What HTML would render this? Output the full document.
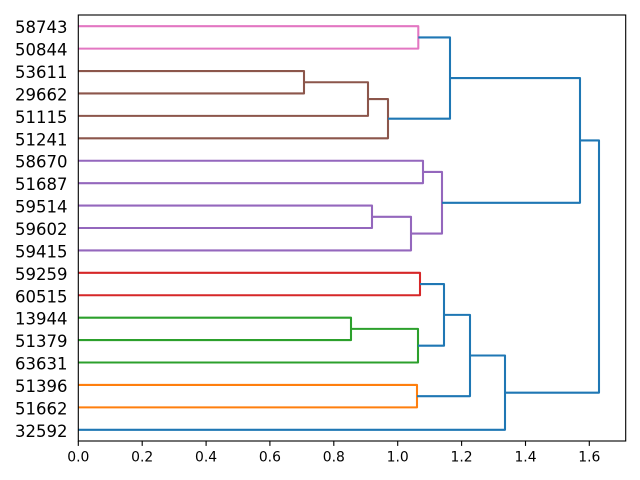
<!DOCTYPE html>
<html>
<head>
<meta charset="utf-8">
<style>
  html, body { margin: 0; padding: 0; background: #ffffff; }
  svg { display: block; }
  text { font-family: "DejaVu Sans", "Liberation Sans", sans-serif; fill: #000; }
</style>
</head>
<body>
<svg width="640" height="480" viewBox="0 0 640 480" xmlns="http://www.w3.org/2000/svg">
  <rect x="0" y="0" width="640" height="480" fill="#ffffff"/>
  <g fill="none" stroke-width="2.08" stroke-linejoin="round">
    <!-- pink -->
    <polyline stroke="#e377c2" points="78.3,26.21 418.3,26.21 418.3,48.63 78.3,48.63"/>
    <!-- brown -->
    <polyline stroke="#8c564b" points="78.3,71.05 304,71.05 304,93.47 78.3,93.47"/>
    <polyline stroke="#8c564b" points="304,82.26 368,82.26 368,115.89 78.3,115.89"/>
    <polyline stroke="#8c564b" points="368,99.08 388,99.08 388,138.31 78.3,138.31"/>
    <!-- purple -->
    <polyline stroke="#9467bd" points="78.3,160.74 423,160.74 423,183.16 78.3,183.16"/>
    <polyline stroke="#9467bd" points="78.3,205.58 372,205.58 372,228.0 78.3,228.0"/>
    <polyline stroke="#9467bd" points="372,216.79 411,216.79 411,250.42 78.3,250.42"/>
    <polyline stroke="#9467bd" points="423,171.95 442,171.95 442,233.6 411,233.6"/>
    <!-- red -->
    <polyline stroke="#d62728" points="78.3,272.84 420,272.84 420,295.26 78.3,295.26"/>
    <!-- green -->
    <polyline stroke="#2ca02c" points="78.3,317.68 351,317.68 351,340.1 78.3,340.1"/>
    <polyline stroke="#2ca02c" points="351,328.89 418,328.89 418,362.52 78.3,362.52"/>
    <!-- orange -->
    <polyline stroke="#ff7f0e" points="78.3,384.95 417,384.95 417,407.37 78.3,407.37"/>
    <!-- blue links -->
    <polyline stroke="#1f77b4" points="418.3,37.42 450,37.42 450,118.70 388,118.70"/>
    <polyline stroke="#1f77b4" points="450,78.06 580,78.06 580,202.78 442,202.78"/>
    <polyline stroke="#1f77b4" points="420,284.05 444,284.05 444,345.71 418,345.71"/>
    <polyline stroke="#1f77b4" points="444,314.88 470,314.88 470,396.16 417,396.16"/>
    <polyline stroke="#1f77b4" points="470,355.52 505,355.52 505,429.79 78.3,429.79"/>
    <polyline stroke="#1f77b4" points="580,140.42 599,140.42 599,392.66 505,392.66"/>
  </g>
  <!-- frame -->
  <rect x="78.3" y="15.0" width="547.4" height="426.0" fill="none" stroke="#000" stroke-width="1.11"/>
  <!-- x ticks -->
  <g stroke="#000" stroke-width="1.11">
    <line x1="78.3" y1="441" x2="78.3" y2="445.9"/>
    <line x1="142.2" y1="441" x2="142.2" y2="445.9"/>
    <line x1="206.1" y1="441" x2="206.1" y2="445.9"/>
    <line x1="269.9" y1="441" x2="269.9" y2="445.9"/>
    <line x1="333.8" y1="441" x2="333.8" y2="445.9"/>
    <line x1="397.7" y1="441" x2="397.7" y2="445.9"/>
    <line x1="461.6" y1="441" x2="461.6" y2="445.9"/>
    <line x1="525.5" y1="441" x2="525.5" y2="445.9"/>
    <line x1="589.3" y1="441" x2="589.3" y2="445.9"/>
  </g>
  <g font-size="13.9" text-anchor="middle">
    <text x="78.3" y="461.7">0.0</text>
    <text x="142.2" y="461.7">0.2</text>
    <text x="206.1" y="461.7">0.4</text>
    <text x="269.9" y="461.7">0.6</text>
    <text x="333.8" y="461.7">0.8</text>
    <text x="397.7" y="461.7">1.0</text>
    <text x="461.6" y="461.7">1.2</text>
    <text x="525.5" y="461.7">1.4</text>
    <text x="589.3" y="461.7">1.6</text>
  </g>
  <!-- leaf labels -->
  <g font-size="16.5" text-anchor="end">
    <text x="67.5" y="33.2">58743</text>
    <text x="67.5" y="55.6">50844</text>
    <text x="67.5" y="78.0">53611</text>
    <text x="67.5" y="100.5">29662</text>
    <text x="67.5" y="122.9">51115</text>
    <text x="67.5" y="145.3">51241</text>
    <text x="67.5" y="167.7">58670</text>
    <text x="67.5" y="190.2">51687</text>
    <text x="67.5" y="212.6">59514</text>
    <text x="67.5" y="235.0">59602</text>
    <text x="67.5" y="257.4">59415</text>
    <text x="67.5" y="279.8">59259</text>
    <text x="67.5" y="302.3">60515</text>
    <text x="67.5" y="324.7">13944</text>
    <text x="67.5" y="347.1">51379</text>
    <text x="67.5" y="369.5">63631</text>
    <text x="67.5" y="392.0">51396</text>
    <text x="67.5" y="414.4">51662</text>
    <text x="67.5" y="436.8">32592</text>
  </g>
</svg>
</body>
</html>
